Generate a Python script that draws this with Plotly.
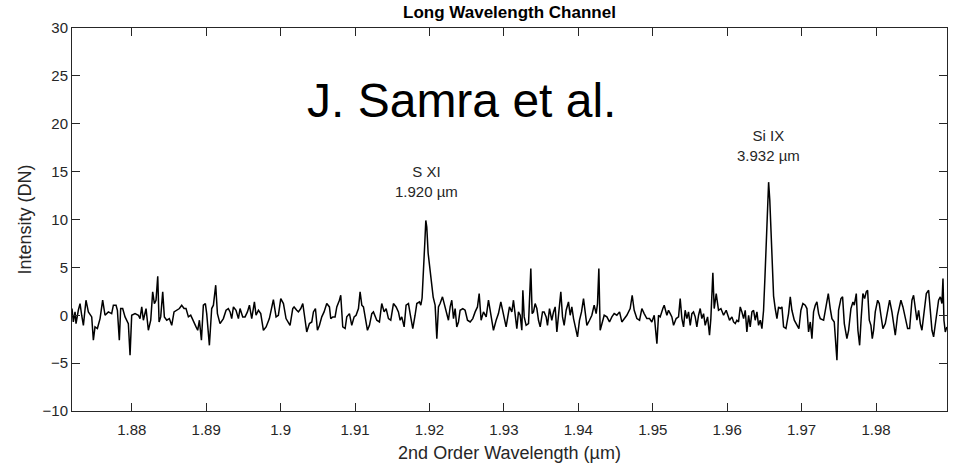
import plotly.graph_objects as go

# Wavelength (µm, 2nd order) and intensity (DN)
wavelength = [
1.87197,1.87215,1.87238,1.87251,1.87282,1.87305,1.87327,1.87350,1.87385,1.87417,
1.87462,1.87484,1.87506,1.87538,1.87574,1.87609,1.87641,1.87686,1.87730,1.87753,
1.87789,1.87807,1.87833,1.87851,1.87878,1.87910,1.87954,1.87977,1.87999,1.88044,
1.88089,1.88111,1.88134,1.88156,1.88192,1.88223,1.88255,1.88281,1.88304,1.88326,
1.88349,1.88367,1.88389,1.88416,1.88438,1.88470,1.88505,1.88537,1.88568,1.88604,
1.88640,1.88671,1.88703,1.88729,1.88761,1.88792,1.88828,1.88864,1.88886,1.88909,
1.88936,1.88962,1.88989,1.89007,1.89043,1.89074,1.89097,1.89128,1.89151,1.89186,
1.89231,1.89267,1.89298,1.89321,1.89343,1.89366,1.89401,1.89433,1.89455,1.89491,
1.89522,1.89554,1.89581,1.89612,1.89648,1.89670,1.89702,1.89733,1.89769,1.89805,
1.89849,1.89881,1.89903,1.89939,1.89970,1.90002,1.90038,1.90073,1.90118,
1.90127,1.90163,1.90181,1.90217,1.90239,1.90271,1.90298,1.90320,1.90351,1.90387,
1.90419,1.90441,1.90468,1.90495,1.90522,1.90553,1.90584,1.90620,1.90656,1.90674,
1.90701,1.90732,1.90755,1.90790,1.90808,1.90835,1.90867,1.90889,1.90925,1.90956,
1.90988,1.91014,1.91046,1.91068,1.91091,1.91113,1.91135,1.91167,1.91194,1.91225,
1.91247,1.91292,1.91328,1.91359,1.91391,1.91418,1.91449,1.91480,1.91516,1.91552,
1.91583,1.91606,1.91628,1.91660,1.91686,1.91718,1.91740,1.91776,1.91807,1.91830,
1.91866,1.91884,
1.91901,1.91922,1.91937,1.91951,1.91964,1.91982,1.92009,1.92029,1.92050,
1.92076,1.92099,1.92121,1.92143,1.92175,1.92202,1.92233,1.92255,1.92278,1.92300,
1.92323,1.92345,1.92367,1.92390,1.92412,1.92448,1.92479,1.92511,1.92547,1.92582,
1.92614,1.92645,1.92668,1.92694,1.92726,1.92762,1.92793,1.92824,1.92860,1.92896,
1.92927,1.92959,1.92995,1.93030,1.93075,
1.93107,1.93129,1.93152,1.93174,1.93196,1.93219,1.93241,1.93255,1.93273,1.93299,
1.93331,1.93362,1.93380,1.93398,1.93420,1.93443,1.93465,1.93488,1.93519,1.93541,
1.93568,1.93586,1.93613,1.93644,1.93667,1.93689,1.93712,1.93734,1.93765,1.93788,
1.93810,1.93837,1.93868,1.93891,1.93913,1.93936,1.93958,1.93989,1.94016,1.94043,
1.94070,1.94092,1.94115,1.94151,1.94182,1.94213,1.94240,1.94258,1.94276,1.94294,
1.94321,1.94348,1.94384,1.94419,1.94451,1.94482,1.94518,1.94554,1.94585,1.94617,
1.94652,1.94697,1.94724,1.94751,1.94787,1.94823,1.94854,1.94885,1.94921,1.94957,
1.94988,1.95020,1.95056,1.95078,1.95100,1.95136,1.95154,1.95190,1.95212,1.95235,
1.95257,1.95280,1.95315,1.95347,1.95369,1.95392,1.95414,1.95436,1.95459,1.95481,
1.95504,1.95526,1.95548,1.95571,1.95593,1.95616,1.95638,1.95660,1.95683,1.95705,
1.95737,1.95763,1.95781,1.95808,1.95826,1.95853,1.95884,1.95916,1.95952,1.95987,
1.96032,
1.96064,1.96086,1.96109,1.96131,1.96153,1.96176,1.96198,1.96221,1.96243,1.96265,
1.96288,1.96310,1.96333,1.96355,1.96377,1.96400,1.96422,1.96445,1.96467,
1.96489,1.96508,1.96525,1.96542,1.96557,1.96573,1.96589,1.96606,1.96624,
1.96646,1.96669,1.96691,1.96713,1.96736,1.96758,1.96790,1.96825,1.96848,1.96870,
1.96902,1.96937,1.96964,1.96991,1.97018,1.97049,1.97072,1.97094,1.97117,1.97139,
1.97161,1.97184,1.97206,1.97229,1.97251,1.97296,1.97332,1.97359,1.97385,1.97408,
1.97439,1.97475,1.97497,1.97529,1.97551,1.97574,1.97609,1.97632,1.97663,1.97690,
1.97708,1.97735,1.97757,1.97780,1.97802,1.97824,1.97847,1.97869,1.97887,1.97910,
1.97932,1.97950,1.97968,1.97990,1.98022,1.98044,1.98066,1.98093,1.98125,1.98156,
1.98183,1.98214,1.98237,1.98259,1.98290,1.98317,1.98335,1.98362,1.98393,1.98425,
1.98452,1.98483,1.98505,1.98528,1.98550,1.98573,1.98595,1.98617,1.98649,1.98676,
1.98707,1.98729,1.98752,1.98774,1.98810,1.98841,1.98864,1.98886,1.98900,1.98913,
1.98931,1.98953,
]

intensity = [
0.70,-0.70,0.35,-0.87,0.52,1.22,0.00,-1.05,1.57,0.35,
-0.17,-2.61,-1.22,-1.39,-0.35,1.57,0.00,0.35,0.17,1.05,
1.05,0.52,-2.61,0.70,0.70,-0.17,-0.87,-4.18,0.00,0.17,
0.00,-0.35,0.87,-0.52,0.70,-1.57,-0.52,2.44,1.22,1.57,
4.08,-0.70,-0.17,2.44,-0.17,-0.52,-0.35,-1.05,0.35,0.52,
0.70,1.05,0.70,0.70,-0.17,0.00,-0.70,-1.22,-1.57,-0.52,
-2.61,1.05,1.22,0.17,-3.14,0.70,1.05,3.14,0.17,-0.87,
-0.35,0.52,0.70,0.35,-0.35,0.87,0.52,-0.35,0.70,-0.17,
-0.17,0.35,1.05,-0.35,1.39,0.00,0.52,0.17,-1.57,-1.22,
-0.35,0.70,1.64,-0.17,0.00,1.74,1.22,-0.35,-1.05,
-1.05,0.70,0.87,0.52,0.35,0.70,1.22,0.00,-1.74,-0.87,
-0.70,0.35,0.70,-1.57,-1.05,-0.17,0.35,1.22,0.87,-0.35,
-0.17,-0.17,0.87,1.57,2.09,-1.22,-1.39,-0.17,0.17,-1.05,
-0.17,0.00,0.70,2.44,1.05,0.87,-0.17,-1.57,-1.05,0.17,
0.35,-0.52,-0.70,1.22,0.35,0.70,-0.35,-0.52,1.22,0.87,
0.35,-0.52,-0.17,-1.22,1.05,1.22,0.17,-1.39,0.00,1.22,
1.39,1.05,
1.80,4.50,7.50,9.90,9.20,6.50,4.80,3.50,1.90,
1.05,-2.44,0.87,1.22,1.92,1.05,0.17,-0.52,0.87,1.57,
-0.35,0.70,-1.22,-0.70,0.52,0.70,0.52,-0.52,-0.70,-0.35,
0.35,0.87,2.26,-0.52,0.35,-0.17,1.57,0.17,-1.57,-0.52,
0.17,1.39,0.00,-1.22,0.87,
0.35,1.57,0.17,-1.39,0.35,0.00,-1.57,2.61,-0.17,-1.05,
-0.87,4.88,0.17,0.35,1.22,0.70,-0.52,-1.22,0.35,0.35,
-0.17,-1.05,0.70,-0.52,0.35,0.87,-1.74,0.17,2.44,-0.17,
-1.05,0.52,1.39,0.00,0.87,-0.35,-1.05,-2.26,-0.52,0.35,
1.74,0.52,-1.05,-0.52,0.00,1.05,0.17,1.22,4.88,-1.57,
-0.70,0.00,-0.17,-0.70,-0.17,0.17,0.00,0.35,-0.70,-0.35,
0.00,0.70,2.09,0.52,-0.35,-0.52,0.70,0.17,-0.35,-0.35,
-0.70,0.00,-2.96,0.00,-0.17,0.70,1.05,0.00,0.52,0.17,
-0.17,-1.05,-0.35,-0.17,1.74,-0.35,-1.22,0.52,-0.35,0.35,
-1.05,0.17,0.35,-0.17,-1.22,0.00,0.70,-0.35,0.17,-1.05,
-0.17,-2.09,-0.35,4.43,0.70,2.26,0.52,0.70,0.00,0.52,
-0.52,
-0.17,-0.70,-0.87,-0.52,-0.70,0.87,0.35,-0.35,0.52,-1.74,
0.00,-1.22,0.35,0.52,-0.52,0.35,-1.05,-0.52,-1.39,
0.50,4.00,8.00,11.50,13.90,12.00,8.50,4.50,2.00,
0.70,-0.35,0.87,0.70,0.87,-1.22,-1.39,0.17,1.92,0.52,
-0.52,-1.05,-1.39,0.52,1.22,1.05,0.70,-1.74,-0.70,-2.44,
0.35,1.05,1.39,0.17,-0.35,-0.52,1.05,2.26,0.70,-0.35,
-0.70,-4.70,0.52,1.74,1.92,-0.87,-2.44,-1.57,0.70,1.39,
1.05,2.26,-1.57,-3.14,-0.17,2.26,1.74,2.44,2.61,-0.52,
-1.05,-2.44,-1.57,0.35,1.57,1.22,0.00,-1.39,-0.87,0.52,
1.57,0.35,-1.22,-2.09,0.00,0.87,1.57,0.87,-0.17,-1.39,
-1.39,1.57,2.09,0.87,-0.52,0.52,-0.87,-1.57,0.87,2.26,
2.61,0.87,-1.57,-2.26,-0.35,1.57,1.92,1.22,3.83,-0.52,
-1.74,-1.22,
]

line_labels = ["S XI<br>1.920 µm", "Si IX<br>3.932 µm"]
label_x = [1.91965, 1.9656]
label_y = [14.0, 17.7]

x_ticks = [1.88, 1.89, 1.90, 1.91, 1.92, 1.93, 1.94, 1.95, 1.96, 1.97, 1.98]
x_ticktext = ["1.88", "1.89", "1.9", "1.91", "1.92", "1.93", "1.94", "1.95", "1.96", "1.97", "1.98"]
y_ticks = [-10, -5, 0, 5, 10, 15, 20, 25, 30]

FONT = "Liberation Sans, Arial, sans-serif"
AX = "#262626"

fig = go.Figure()
fig.add_trace(go.Scatter(x=wavelength, y=intensity, mode="lines",
                         line=dict(color="black", width=1.5), showlegend=False,
                         hoverinfo="x+y"))

for t, xx, yy in zip(line_labels, label_x, label_y):
    fig.add_annotation(x=xx, y=yy, text=t, showarrow=False, xref="x", yref="y",
                       font=dict(family=FONT, size=15, color=AX), align="center")

fig.add_annotation(x=0.2662, y=0.812, xref="paper", yref="paper", text="J. Samra et al.",
                   showarrow=False, xanchor="left", yanchor="middle",
                   font=dict(family=FONT, size=48, color="black"))

fig.update_layout(
    width=954, height=469,
    margin=dict(l=72, r=7, t=28, b=58),
    paper_bgcolor="white", plot_bgcolor="white",
    title=dict(text="<b>Long Wavelength Channel</b>", x=0.5, xref="paper", xanchor="center",
               y=0.974, yanchor="middle", font=dict(family=FONT, size=17, color="black")),
    font=dict(family=FONT, size=15, color=AX),
)
fig.update_xaxes(range=[1.87197, 1.98954], tickvals=x_ticks, ticktext=x_ticktext,
                 ticks="inside", ticklen=8, tickcolor=AX, showline=True, linecolor=AX,
                 linewidth=1, mirror="ticks", showgrid=False, zeroline=False,
                 ticklabelstandoff=5,
                 title=dict(text="2nd Order Wavelength (µm)", font=dict(family=FONT, size=18, color=AX), standoff=9),
                 tickfont=dict(family=FONT, size=15, color=AX))
fig.update_yaxes(range=[-10, 30], tickvals=y_ticks,
                 ticks="inside", ticklen=8, tickcolor=AX, showline=True, linecolor=AX,
                 linewidth=1, mirror="ticks", showgrid=False, zeroline=False,
                 title=dict(text="Intensity (DN)", font=dict(family=FONT, size=18, color=AX), standoff=6),
                 tickfont=dict(family=FONT, size=15, color=AX))

fig.write_html("out.html")
